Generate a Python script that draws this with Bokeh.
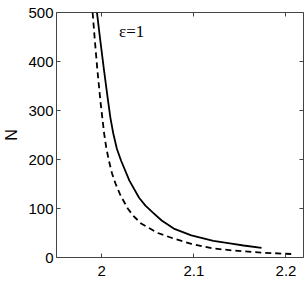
from bokeh.plotting import figure
from bokeh.models import (LinearAxis, FixedTicker, NumeralTickFormatter, CustomJSTickFormatter,
                          Label, Range1d)
from bokeh.embed import file_html
from bokeh.resources import INLINE

# solid curve
mu_solid = [1.9949, 1.9985, 2.0023, 2.0069, 2.0095, 2.0126, 2.0165, 2.0210, 2.0301, 2.0406,
            2.0475, 2.0553, 2.0651, 2.0782, 2.0973, 2.1082, 2.1212, 2.1409, 2.1539, 2.1735]
N_solid = [500, 443, 386, 320, 285, 253, 222, 198, 157, 122,
           106, 92, 75.5, 59, 45, 40, 34, 28.5, 24.5, 19.5]
# dashed curve
mu_dash = [1.9902, 1.9926, 1.9952, 1.9986, 2.0027, 2.0050, 2.0078, 2.0112, 2.0150, 2.0205,
           2.0283, 2.0341, 2.0428, 2.0610, 2.0791, 2.0973, 2.1191, 2.1408, 2.1735, 2.2070]
N_dash = [500, 443, 386, 320, 253, 224, 198, 172, 151, 126.5,
          100, 85.7, 69.4, 50, 38, 28, 19, 14.5, 10, 7]

x_ticks = [2.0, 2.1, 2.2]
y_ticks = [0, 100, 200, 300, 400, 500]

FONT = "Liberation Sans"

p = figure(width=305, height=291, frame_width=247, frame_height=245,
           output_backend="svg", toolbar_location=None,
           x_range=Range1d(1.951, 2.219), y_range=Range1d(0, 500),
           min_border_left=55, min_border_right=3, min_border_top=12, min_border_bottom=34,
           x_axis_location=None, y_axis_location=None)
p.grid.visible = False
p.outline_line_color = "#444444"
p.outline_line_width = 1
p.background_fill_color = "white"
p.border_fill_color = "white"

def style(ax):
    ax.major_tick_in = 4
    ax.major_tick_out = 0
    ax.minor_tick_in = 0
    ax.minor_tick_out = 0
    ax.axis_line_color = None
    ax.major_tick_line_color = "#444444"
    ax.major_label_text_font = FONT
    ax.major_label_text_font_size = "15px"
    ax.major_label_text_color = "black"

xb = LinearAxis(ticker=FixedTicker(ticks=x_ticks), formatter=NumeralTickFormatter(format="0.[0]"))
style(xb)
xb.major_label_standoff = 8
p.add_layout(xb, "below")

yl = LinearAxis(ticker=FixedTicker(ticks=y_ticks), axis_label="N")
style(yl)
yl.major_label_standoff = 3
yl.axis_label_text_font = FONT
yl.axis_label_text_font_style = "normal"
yl.axis_label_text_font_size = "16px"
yl.axis_label_text_color = "black"
yl.axis_label_standoff = 5
p.add_layout(yl, "left")

xt = LinearAxis(ticker=FixedTicker(ticks=x_ticks), formatter=CustomJSTickFormatter(code="return ''"))
style(xt)
xt.major_label_standoff = 0
p.add_layout(xt, "above")
yr = LinearAxis(ticker=FixedTicker(ticks=y_ticks), formatter=CustomJSTickFormatter(code="return ''"))
style(yr)
yr.major_label_standoff = 0
p.add_layout(yr, "right")

p.line(mu_solid, N_solid, line_color="black", line_width=1.8)
p.line(mu_dash, N_dash, line_color="black", line_width=1.8, line_dash="6 4")

p.add_layout(Label(x=2.0189, y=461, x_units="data", y_units="data", text="ε=1",
                   text_font="Liberation Serif", text_font_size="17px", text_color="black",
                   text_align="left", text_baseline="alphabetic"))
p.add_layout(Label(x=2.0571, x_units="data", y=-25, y_units="screen", text="μ", text_font=FONT,
                   text_font_size="17px", text_color="black", text_align="center",
                   text_baseline="alphabetic"))

open("out.html", "w").write(file_html(p, INLINE))
